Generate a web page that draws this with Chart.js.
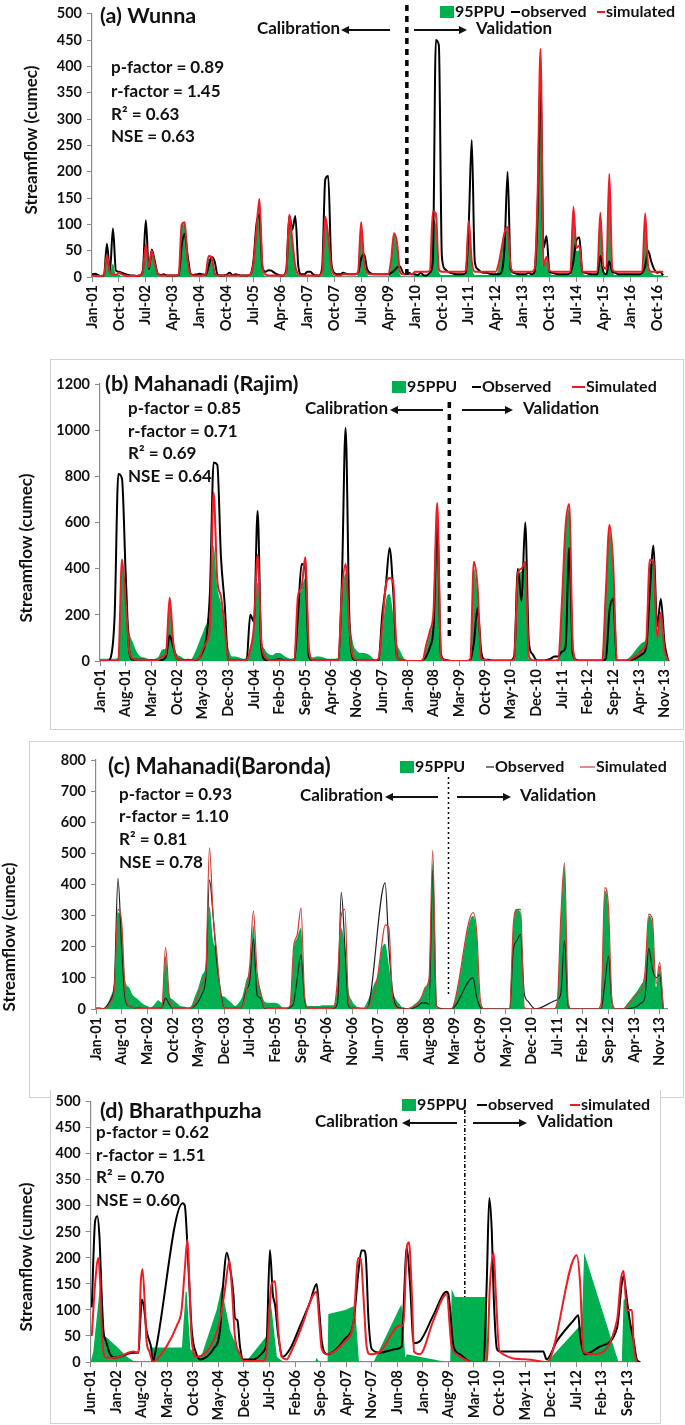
<!DOCTYPE html>
<html>
<head>
<meta charset="utf-8">
<script src="https://cdn.jsdelivr.net/npm/chart.js@4.4.1/dist/chart.umd.min.js"></script>
<style>
  html, body { margin: 0; padding: 0; background: #fff; }
  #page { position: relative; width: 685px; height: 1425px; overflow: hidden; }
  .box { position: absolute; border: 1.5px solid #d2d2d2; box-sizing: border-box; background: #fff; }
  .panel { position: absolute; left: 0; width: 685px; }
  canvas { display: block; }
</style>
</head>
<body>
<div id="page">
  <div class="box" style="left:50px;top:359px;width:634px;height:371px"></div>
  <div class="box" style="left:29px;top:741px;width:655px;height:357px"></div>
  <div class="box" style="left:50px;top:1090px;width:611px;height:334px;border-top:none"></div>
  <div class="panel" style="top:0px;height:335px"><canvas id="chart-a" width="685" height="335"></canvas></div>
  <div class="panel" style="top:345px;height:383px"><canvas id="chart-b" width="685" height="383"></canvas></div>
  <div class="panel" style="top:745px;height:345px"><canvas id="chart-c" width="685" height="345"></canvas></div>
  <div class="panel" style="top:1088px;height:337px"><canvas id="chart-d" width="685" height="337"></canvas></div>
</div>
<script>
// (a) Wunna - monthly, Jan-01 .. Dec-16
const aTicks = ["Jan-01","Oct-01","Jul-02","Apr-03","Jan-04","Oct-04","Jul-05","Apr-06","Jan-07","Oct-07","Jul-08",
  "Apr-09","Jan-10","Oct-10","Jul-11","Apr-12","Jan-13","Oct-13","Jul-14","Apr-15","Jan-16","Oct-16"];
const aObserved = [
  5, 6, 4, 2, 3, 63, 10, 92, 12, 10, 8, 6,
  4, 3, 3, 2, 3, 12, 108, 15, 52, 30, 6, 4,
  5, 3, 3, 3, 3, 4, 60, 82, 40, 6, 4, 5,
  6, 5, 4, 20, 38, 30, 4, 3, 3, 4, 8, 4,
  5, 4, 3, 3, 3, 5, 30, 100, 118, 18, 10, 13,
  12, 8, 5, 3, 3, 15, 117, 90, 116, 20, 5, 5,
  10, 10, 5, 3, 3, 20, 185, 192, 30, 8, 5, 5,
  8, 6, 5, 5, 5, 8, 35, 43, 15, 8, 5, 5,
  5, 5, 5, 5, 8, 12, 18, 20, 8, 5, 8, 5,
  5, 4, 8, 3, 3, 8, 30, 450, 440, 40, 15, 10,
  8, 6, 5, 5, 5, 8, 100, 260, 30, 15, 10, 8,
  8, 6, 5, 5, 5, 10, 60, 200, 15, 8, 6, 5,
  5, 5, 8, 5, 10, 120, 370, 55, 78, 10, 8, 6,
  5, 5, 5, 5, 8, 30, 70, 75, 10, 8, 6, 5,
  5, 5, 40, 10, 5, 30, 10, 8, 5, 5, 5, 5,
  5, 5, 5, 5, 8, 20, 50, 30, 15, 8, 10, 3
];
const aSimulated = [
  3, 2, 2, 2, 3, 42, 8, 5, 4, 8, 5, 3,
  2, 2, 2, 2, 3, 10, 62, 18, 50, 25, 5, 3,
  3, 3, 3, 3, 3, 5, 100, 104, 30, 5, 3, 3,
  3, 3, 5, 40, 38, 8, 3, 3, 3, 3, 3, 3,
  3, 3, 3, 3, 3, 5, 25, 90, 148, 20, 5, 3,
  3, 3, 3, 3, 3, 10, 118, 70, 20, 5, 3, 3,
  3, 3, 3, 3, 3, 10, 115, 78, 20, 5, 3, 3,
  5, 5, 5, 5, 5, 10, 104, 30, 8, 5, 5, 5,
  5, 5, 5, 5, 30, 83, 65, 10, 5, 5, 5, 5,
  10, 10, 10, 10, 10, 12, 125, 120, 15, 10, 10, 10,
  10, 10, 10, 10, 10, 12, 107, 30, 10, 10, 10, 10,
  10, 10, 10, 10, 25, 55, 85, 95, 20, 10, 10, 10,
  10, 10, 10, 10, 15, 150, 433, 20, 38, 12, 10, 10,
  10, 10, 10, 10, 10, 133, 55, 60, 10, 10, 10, 10,
  10, 10, 122, 20, 15, 196, 15, 10, 10, 10, 10, 10,
  10, 10, 10, 10, 10, 121, 20, 10, 10, 10, 10, 10
];
const aPPU = [
  0, 0, 0, 0, 0, 38, 10, 25, 5, 5, 0, 0,
  0, 0, 0, 0, 0, 8, 55, 15, 45, 20, 3, 0,
  0, 0, 0, 0, 0, 3, 100, 100, 30, 3, 0, 0,
  0, 0, 2, 35, 35, 10, 0, 0, 0, 0, 0, 0,
  0, 0, 0, 0, 0, 3, 20, 85, 140, 15, 2, 0,
  0, 0, 0, 0, 0, 5, 110, 75, 15, 3, 0, 0,
  0, 0, 0, 0, 0, 5, 110, 75, 15, 2, 0, 0,
  0, 0, 0, 0, 0, 5, 105, 25, 5, 0, 0, 0,
  0, 0, 0, 0, 25, 80, 60, 5, 0, 0, 0, 0,
  4, 4, 4, 4, 4, 5, 110, 100, 10, 4, 4, 4,
  4, 4, 4, 4, 4, 5, 100, 25, 4, 4, 4, 4,
  4, 4, 4, 4, 20, 50, 80, 90, 10, 4, 4, 4,
  4, 4, 4, 4, 8, 140, 300, 20, 30, 8, 4, 4,
  4, 4, 4, 4, 4, 125, 50, 50, 8, 4, 4, 4,
  4, 4, 115, 10, 5, 185, 10, 4, 4, 4, 4, 4,
  4, 4, 4, 4, 4, 115, 15, 8, 4, 4, 4, 4
];
const aSplit = 105.3;
const aStats = ["p-factor = 0.89", "r-factor = 1.45", "R\u00b2 = 0.63", "NSE = 0.63"];

// (b) Mahanadi (Rajim) - monthly, Jan-01 .. Dec-13
const bTicks = ["Jan-01","Aug-01","Mar-02","Oct-02","May-03","Dec-03","Jul-04","Feb-05","Sep-05","Apr-06","Nov-06","Jun-07",
  "Jan-08","Aug-08","Mar-09","Oct-09","May-10","Dec-10","Jul-11","Feb-12","Sep-12","Apr-13","Nov-13"];
const bObserved = [
  0, 0, 0, 20, 200, 810, 790, 380, 40, 5, 5, 5,
  5, 3, 3, 3, 3, 5, 20, 110, 60, 10, 5, 3,
  5, 3, 3, 10, 40, 100, 300, 860, 850, 450, 250, 5,
  3, 2, 2, 2, 5, 200, 170, 650, 60, 5, 3, 3,
  5, 8, 3, 2, 2, 5, 200, 420, 400, 20, 3, 2,
  2, 2, 2, 2, 3, 5, 350, 1010, 200, 10, 3, 2,
  2, 2, 2, 2, 5, 200, 330, 490, 300, 20, 5, 3,
  0, 0, 0, 0, 3, 20, 60, 150, 600, 30, 5, 2,
  0, 0, 0, 0, 0, 5, 80, 230, 40, 5, 5, 2,
  2, 2, 2, 2, 2, 20, 400, 260, 600, 80, 30, 5,
  2, 2, 5, 10, 20, 20, 40, 60, 490, 30, 5, 2,
  2, 2, 2, 2, 2, 2, 10, 220, 270, 5, 2, 2,
  2, 5, 10, 20, 30, 60, 300, 500, 150, 270, 80, 0
];
const bSimulated = [
  0, 0, 0, 0, 0, 5, 440, 260, 40, 10, 5, 5,
  5, 3, 3, 3, 5, 20, 30, 275, 80, 10, 5, 3,
  3, 3, 5, 10, 50, 80, 150, 730, 350, 280, 150, 5,
  3, 3, 3, 3, 5, 50, 150, 460, 90, 20, 5, 3,
  3, 3, 3, 3, 3, 5, 280, 320, 450, 50, 5, 3,
  3, 3, 3, 3, 3, 5, 300, 420, 150, 20, 5, 3,
  3, 3, 3, 3, 10, 150, 330, 360, 340, 20, 5, 3,
  0, 0, 0, 0, 3, 70, 130, 220, 685, 20, 3, 2,
  0, 0, 0, 0, 0, 0, 430, 320, 10, 5, 2, 0,
  0, 0, 0, 0, 0, 10, 380, 400, 430, 20, 3, 2,
  2, 2, 2, 2, 2, 5, 250, 580, 680, 60, 2, 2,
  2, 2, 2, 2, 2, 2, 300, 590, 420, 5, 2, 2,
  2, 10, 20, 30, 50, 80, 440, 430, 100, 210, 50, 0
];
const bPPU = [
  10, 10, 10, 10, 10, 15, 400, 300, 130, 80, 40, 20,
  15, 10, 5, 10, 20, 50, 55, 265, 80, 30, 20, 10,
  5, 10, 40, 80, 120, 160, 200, 500, 320, 250, 150, 60,
  20, 20, 15, 10, 15, 60, 150, 340, 100, 50, 30, 25,
  35, 35, 25, 15, 10, 15, 250, 310, 360, 40, 15, 20,
  20, 15, 10, 10, 10, 15, 280, 380, 200, 80, 45, 35,
  35, 30, 20, 5, 5, 120, 260, 290, 200, 80, 40, 10,
  0, 0, 0, 0, 3, 60, 120, 200, 650, 20, 0, 0,
  0, 0, 0, 0, 0, 0, 400, 280, 10, 0, 0, 0,
  0, 0, 0, 0, 0, 10, 350, 390, 420, 10, 0, 0,
  0, 0, 0, 0, 0, 5, 230, 560, 660, 40, 0, 0,
  0, 0, 0, 0, 0, 0, 280, 570, 400, 5, 0, 0,
  10, 25, 45, 65, 80, 100, 420, 420, 100, 200, 40, 0
];
const bSplit = 95.3;
const bStats = ["p-factor = 0.85", "r-factor = 0.71", "R\u00b2 = 0.69", "NSE = 0.64"];

// (c) Mahanadi (Baronda) - monthly, Jan-01 .. Dec-13, null = missing month
const cTicks = bTicks;
const cObserved = [
  2, 2, 0, 10, 30, 80, 420, 200, 30, 10, 5, 3,
  3, 2, 2, 2, 2, 2, 5, 35, 15, 3, 2, 2,
  2, 2, 3, 10, 25, 50, 100, 415, 300, 150, 60, 3,
  2, 2, 2, 2, 10, 60, 90, 225, 45, 35, 3, 2,
  2, 2, 2, 2, 2, 5, 20, 100, 175, 30, 2, 2,
  2, 2, 2, 2, 2, 3, 20, 375, 200, 10, 3, 2,
  2, 2, 0, null, null, null, null, 405, 200, 60, 10, 3,
  3, 0, 0, 5, 10, 20, 20, 15, 445, 10, 2, 0,
  0, 0, null, null, null, null, null, 100, 40, 5, 0, 0,
  0, 0, 0, 0, 0, 0, 190, 220, 240, 50, 25, 10,
  0, null, null, null, null, 25, 30, 50, 220, 10, 0, 0,
  0, 0, 0, 0, 0, 0, 0, 80, 170, 20, 0, 0,
  0, 0, 2, 5, 10, 20, 40, 195, 130, 100, 110, 0
];
const cSimulated = [
  2, 2, 0, 5, 20, 60, 320, 280, 50, 10, 5, 3,
  2, 2, 2, 2, 2, 2, 5, 198, 40, 3, 2, 2,
  2, 2, 3, 20, 50, 80, 120, 518, 300, 180, 50, 3,
  2, 2, 2, 2, 10, 50, 140, 315, 120, 50, 5, 2,
  2, 2, 2, 2, 2, 10, 200, 240, 325, 40, 2, 2,
  2, 2, 2, 2, 2, 5, 100, 300, 320, 20, 3, 2,
  2, 2, 0, 20, 50, 110, 200, 270, 260, 40, 5, 0,
  0, 0, 5, 10, 20, 40, 70, 100, 510, 10, 0, 0,
  0, 0, null, null, null, null, null, 310, 250, 30, 0, 0,
  0, 0, 0, 0, 0, 0, 270, 320, 320, 5, 0, 0,
  0, 0, 0, 0, 0, 0, 20, 300, 470, 20, 0, 0,
  0, 0, 0, 0, 0, 0, 20, 390, 330, 20, 0, 0,
  0, 10, 20, 35, 50, 60, 120, 305, 290, 80, 150, 0
];
const cPPU = [
  5, 5, 3, 15, 40, 90, 310, 280, 90, 70, 45, 35,
  25, 15, 10, 5, 15, 28, 20, 170, 50, 30, 20, 10,
  8, 5, 10, 40, 70, 110, 140, 330, 220, 180, 50, 40,
  30, 20, 10, 20, 40, 90, 130, 270, 110, 60, 25, 20,
  20, 20, 15, 5, 5, 10, 190, 230, 260, 30, 10, 10,
  10, 10, 12, 12, 12, 12, 80, 260, 200, 60, 25, 10,
  5, 3, 20, 50, 80, 110, 190, 210, 140, 60, 30, 15,
  0, 0, 5, 15, 25, 40, 70, 100, 470, 5, 0, 0,
  0, 0, null, null, null, null, null, 300, 240, 20, 0, 0,
  0, 0, 0, 0, 0, 0, 260, 320, 310, 0, 0, 0,
  0, 0, 0, 0, 0, 0, 20, 290, 460, 10, 0, 0,
  0, 0, 0, 0, 0, 0, 10, 380, 320, 10, 0, 0,
  0, 15, 30, 45, 60, 80, 110, 300, 280, 70, 140, 0
];
const cSplit = 96.3;
const cStats = ["p-factor = 0.93", "r-factor = 1.10", "R\u00b2 = 0.81", "NSE = 0.78"];

// (d) Bharathpuzha - [months since Jun-01, value]; the record has gaps
const dTicks = ["Jun-01","Jan-02","Aug-02","Mar-03","Oct-03","May-04","Dec-04","Jul-05","Feb-06","Sep-06","Apr-07",
  "Nov-07","Jun-08","Jan-09","Aug-09","Mar-10","Oct-10","May-11","Dec-11","Jul-12","Feb-13","Sep-13"];
const dObserved = [[0.3,105],[1.2,270],[1.8,280],[2.4,240],[3.0,130],[3.5,60],[4.2,40],[5.3,15],[6.7,8],[9.9,15],[11.7,18],
  [13.1,18],[13.6,80],[14.0,120],[14.6,105],[15.3,60],[16.1,40],[16.5,30],[17.0,0],[17.6,15],[25.2,305],[25.8,300],
  [26.3,250],[27.0,150],[27.7,60],[29.0,15],[30.0,5],[31.8,10],[33.6,25],[35.4,60],[36.3,150],[37.3,210],[38.2,180],
  [39.1,130],[39.5,85],[40.2,80],[40.9,30],[41.8,5],[44.6,5],[47.3,20],[48.2,40],[49.1,215],[49.9,130],[50.5,110],
  [51.4,50],[52.6,10],[54.6,25],[57.4,70],[60.1,115],[61.9,150],[62.6,100],[63.3,40],[64.7,15],[66.5,20],[69.7,45],
  [72.0,76],[73.3,170],[74.2,214],[74.9,214],[75.4,200],[76.1,83],[77.0,25],[79.3,18],[83.8,25],[85.2,30],[85.7,100],
  [86.6,220],[87.5,150],[88.5,36],[90.2,40],[93.9,90],[97.5,135],[98.0,130],[99.4,30],[101.1,15],[104.4,0],[107.6,0],
  [108.5,150],[109.2,315],[109.9,250],[110.4,130],[111.3,25],[112.2,20],[124.0,20],[124.9,5],[127.7,40],[132.3,80],
  [133.6,90],[134.1,50],[135.4,15],[139.6,30],[144.2,65],[145.5,150],[146.0,165],[146.9,120],[147.8,75],[148.8,40],
  [149.6,5],[150.5,0]];
const dSimulated = [[0.3,50],[1.2,150],[2.1,200],[2.6,150],[3.0,70],[3.5,20],[4.4,8],[6.7,8],[11.7,20],[13.1,18],[13.7,150],
  [14.2,178],[14.9,100],[15.3,40],[16.1,20],[17.0,0],[18.1,5],[20.8,30],[23.6,70],[24.9,100],[25.8,180],[26.5,235],
  [27.0,160],[27.7,40],[29.0,10],[33.6,40],[35.4,80],[36.8,140],[38.0,195],[38.7,140],[39.5,50],[40.9,15],[41.8,2],
  [47.3,2],[48.2,20],[49.6,150],[50.5,155],[51.4,60],[52.3,10],[53.7,5],[54.6,15],[57.4,60],[61.9,135],[62.6,80],
  [63.3,25],[64.7,15],[69.7,40],[72.0,76],[73.3,200],[74.0,200],[74.7,130],[75.6,30],[76.5,15],[79.3,20],[84.7,70],
  [85.7,70],[86.6,220],[87.2,230],[88.0,130],[88.6,20],[90.2,15],[93.9,80],[97.5,130],[98.9,30],[100.3,15],[104.9,0],
  [108.5,0],[109.4,150],[110.4,210],[111.0,130],[112.0,20],[119.5,5],[125.0,0],[133.2,205],[134.1,150],[135.0,20],
  [137.8,15],[144.2,80],[145.3,160],[146.0,175],[146.9,100],[147.6,100],[148.3,100],[148.8,30],[149.6,0]];
const dPPU = [[0,0],[0.7,20],[2.6,150],[3.0,140],[3.5,60],[3.9,50],[7.1,30],[9.9,10],[11.7,2],[13.5,0],[16.5,0],[16.7,28],
  [25.0,28],[26.0,135],[26.3,135],[27.3,25],[29.5,10],[30.5,15],[34.5,100],[35.9,145],[36.2,130],[38.2,60],[41.8,0],
  [42.5,0],[48.2,50],[49.1,120],[49.6,100],[51.0,10],[52.8,0],[61.5,0],[61.9,8],[62.6,0],[64.9,0],[65.1,92],[69.7,100],
  [72.4,108],[72.9,60],[73.5,0],[77.5,0],[84.7,105],[85.2,110],[86.2,8],[86.6,15],[97.5,0],[98.5,0],[98.9,140],
  [99.8,125],[108.5,125],[108.6,0],[125.0,0],[134.1,70],[134.5,60],[135.2,210],[144.6,0],[145.5,0],[146.0,120],
  [146.5,120],[149.0,30],[150.0,0]];
const dSplit = 102.5;
const dStats = ["p-factor = 0.62", "r-factor = 1.51", "R\u00b2 = 0.70", "NSE = 0.60"];

const GREEN = "#00b050";
const AXIS = "#8a8a8a";
const FONT = "Lato, 'Open Sans', sans-serif";

const monthly = (vals) => vals.map((v, i) => ({ x: i, y: v }));
const pairs = (list) => list.map(([x, y]) => ({ x, y }));

function arrow(ctx, x1, x2, y) {
  const dir = x2 > x1 ? 1 : -1;
  ctx.beginPath();
  ctx.moveTo(x1, y);
  ctx.lineTo(x2 - dir * 6, y);
  ctx.stroke();
  ctx.beginPath();
  ctx.moveTo(x2, y);
  ctx.lineTo(x2 - dir * 8, y - 4);
  ctx.lineTo(x2 - dir * 8, y + 4);
  ctx.closePath();
  ctx.fill();
}

// texts, arrows, split line and legend drawn on top of each panel
function overlay(p) {
  return {
    id: "overlay-" + p.canvas,
    afterDraw(chart) {
      const ctx = chart.ctx;
      const oy = p.top;
      ctx.save();
      ctx.fillStyle = "#111";
      ctx.strokeStyle = "#111";
      ctx.textBaseline = "middle";

      ctx.font = `bold ${p.title.size}px ${FONT}`;
      ctx.fillText(p.title.text, p.title.x, p.title.y - oy);

      ctx.font = `bold ${p.stats.size}px ${FONT}`;
      p.stats.lines.forEach((t, i) => ctx.fillText(t, p.stats.x, p.stats.y[i] - oy));

      const ph = p.phase;
      ctx.font = `bold ${ph.size}px ${FONT}`;
      ctx.textAlign = "right";
      ctx.fillText("Calibration", ph.calEnd, ph.y - oy);
      ctx.textAlign = "left";
      ctx.fillText("Validation", ph.valStart, ph.y - oy);
      ctx.lineWidth = 2;
      arrow(ctx, ph.leftArrow[0], ph.leftArrow[1], ph.y - oy + 1);
      arrow(ctx, ph.rightArrow[0], ph.rightArrow[1], ph.y - oy + 1);

      const sx = chart.scales.x.getPixelForValue(p.split);
      ctx.setLineDash(ph.dash);
      ctx.lineWidth = ph.dashWidth;
      ctx.strokeStyle = "#000";
      ctx.beginPath();
      ctx.moveTo(sx, ph.splitY[0] - oy);
      ctx.lineTo(sx, ph.splitY[1] - oy);
      ctx.stroke();
      ctx.setLineDash([]);

      const lg = p.legend;
      const ly = lg.y - oy;
      ctx.font = `bold ${lg.size}px ${FONT}`;
      ctx.fillStyle = GREEN;
      ctx.fillRect(lg.rect, ly - 6, 14, 12);
      ctx.fillStyle = "#111";
      ctx.fillText(lg.names[0], lg.rect + 15, ly);
      ctx.lineWidth = p.lineWidth;
      ctx.strokeStyle = p.obsColor;
      ctx.beginPath(); ctx.moveTo(lg.obsLine[0], ly); ctx.lineTo(lg.obsLine[1], ly); ctx.stroke();
      ctx.fillText(lg.names[1], lg.obsLine[1] + 1, ly);
      ctx.strokeStyle = p.simColor;
      ctx.beginPath(); ctx.moveTo(lg.simLine[0], ly); ctx.lineTo(lg.simLine[1], ly); ctx.stroke();
      ctx.fillText(lg.names[2], lg.simLine[1] + 1, ly);

      ctx.translate(p.yTitle.x, p.yTitle.y - oy);
      ctx.rotate(-Math.PI / 2);
      ctx.textAlign = "center";
      ctx.font = `bold ${p.yTitle.size}px ${FONT}`;
      ctx.fillText("Streamflow (cumec)", 0, 0);
      ctx.restore();
    }
  };
}

function buildChart(p) {
  const tickFont = { family: FONT, size: 14.5, weight: "bold" };
  return new Chart(document.getElementById(p.canvas), {
    type: "line",
    data: {
      datasets: [
        { label: "simulated", data: p.sim, borderColor: p.simColor, borderWidth: p.lineWidth, order: 1, spanGaps: true },
        { label: "observed", data: p.obs, borderColor: p.obsColor, borderWidth: p.lineWidth, order: 2, spanGaps: true },
        { label: "95PPU", data: p.ppu, borderWidth: 0, backgroundColor: GREEN, fill: "origin", order: 3, spanGaps: true,
          cubicInterpolationMode: p.ppuCurve ? "monotone" : "default", tension: 0 }
      ]
    },
    options: {
      responsive: false,
      animation: false,
      devicePixelRatio: 1,
      layout: { padding: { top: p.area.top - p.top, right: 685 - p.area.right, left: 0, bottom: 0 } },
      elements: { point: { radius: 0 }, line: { cubicInterpolationMode: "monotone" } },
      plugins: { legend: { display: false }, tooltip: { enabled: false } },
      scales: {
        x: {
          type: "linear", min: 0, max: p.xMax,
          afterFit: (s) => { s.height = p.h - (p.area.bottom - p.top); },
          afterBuildTicks: (s) => { s.ticks = p.tickLabels.map((_, i) => ({ value: i * p.tickStep })); },
          ticks: { callback: (v, i) => p.tickLabels[i], autoSkip: false, minRotation: 90, maxRotation: 90,
                   font: tickFont, color: "#111", padding: 3 },
          grid: { drawOnChartArea: false, tickLength: 5, color: AXIS },
          border: { color: AXIS, width: 1.2 }
        },
        y: {
          min: 0, max: p.yMax,
          afterFit: (s) => { s.width = p.area.left; },
          ticks: { stepSize: p.yStep, font: tickFont, color: "#111", padding: 5, callback: (v) => String(v) },
          grid: { drawOnChartArea: false, tickLength: 5, color: AXIS },
          border: { color: AXIS, width: 1.2 }
        }
      }
    },
    plugins: [overlay(p)]
  });
}

const legendLower = ["95PPU", "observed", "simulated"];
const legendUpper = ["95PPU", "Observed", "Simulated"];

buildChart({
  canvas: "chart-a", top: 0, h: 335,
  area: { left: 92, top: 7, right: 667.6, bottom: 277 },
  xMax: 192.5, yMax: 500, yStep: 50, tickStep: 9, tickLabels: aTicks, split: aSplit,
  obs: monthly(aObserved), sim: monthly(aSimulated), ppu: monthly(aPPU), ppuCurve: true,
  lineWidth: 2, obsColor: "#000", simColor: "#ee1c25",
  title: { text: "(a) Wunna", x: 100, y: 16, size: 21.5 },
  stats: { lines: aStats, x: 111, y: [68, 92, 115, 137], size: 17 },
  phase: { y: 29, size: 17, calEnd: 340, leftArrow: [390, 341], rightArrow: [414, 467], valStart: 476,
           splitY: [5, 277], dash: [6, 5], dashWidth: 3.5 },
  legend: { y: 12, size: 16, rect: 440, obsLine: [511, 520], simLine: [597, 605], names: legendLower },
  yTitle: { x: 32, y: 140, size: 17 }
});

buildChart({
  canvas: "chart-b", top: 345, h: 383,
  area: { left: 100, top: 384, right: 674, bottom: 661 },
  xMax: 155.5, yMax: 1200, yStep: 200, tickStep: 7, tickLabels: bTicks, split: bSplit,
  obs: monthly(bObserved), sim: monthly(bSimulated), ppu: monthly(bPPU), ppuCurve: true,
  lineWidth: 2, obsColor: "#000", simColor: "#ee1c25",
  title: { text: "(b) Mahanadi (Rajim)", x: 105, y: 384, size: 21.5 },
  stats: { lines: bStats, x: 128, y: [409, 432, 454, 477], size: 17 },
  phase: { y: 409, size: 17, calEnd: 388, leftArrow: [443, 390], rightArrow: [462, 513], valStart: 523,
           splitY: [402, 642], dash: [6, 6], dashWidth: 3.5 },
  legend: { y: 387, size: 16, rect: 392, obsLine: [472, 481], simLine: [572, 585], names: legendUpper },
  yTitle: { x: 27, y: 548, size: 17 }
});

buildChart({
  canvas: "chart-c", top: 745, h: 345,
  area: { left: 96, top: 760, right: 667, bottom: 1009 },
  xMax: 156, yMax: 800, yStep: 100, tickStep: 7, tickLabels: cTicks, split: cSplit,
  obs: monthly(cObserved), sim: monthly(cSimulated), ppu: monthly(cPPU), ppuCurve: true,
  lineWidth: 1.2, obsColor: "#222", simColor: "#d23b32",
  title: { text: "(c) Mahanadi(Baronda)", x: 108, y: 767, size: 22.5 },
  stats: { lines: cStats, x: 119, y: [795, 817, 840, 863], size: 17 },
  phase: { y: 796, size: 17, calEnd: 383, leftArrow: [438, 385], rightArrow: [457, 511], valStart: 520,
           splitY: [777, 997], dash: [2, 3], dashWidth: 1.5 },
  legend: { y: 767, size: 16, rect: 400, obsLine: [486, 494], simLine: [580, 595], names: legendUpper },
  yTitle: { x: 10, y: 937, size: 17 }
});

buildChart({
  canvas: "chart-d", top: 1088, h: 337,
  area: { left: 90.7, top: 1096, right: 640, bottom: 1362 },
  xMax: 150.5, yMax: 500, yStep: 50, tickStep: 7, tickLabels: dTicks, split: dSplit,
  obs: pairs(dObserved), sim: pairs(dSimulated), ppu: pairs(dPPU), ppuCurve: false,
  lineWidth: 2, obsColor: "#000", simColor: "#ee1c25",
  title: { text: "(d) Bharathpuzha", x: 100, y: 1111, size: 21.5 },
  stats: { lines: dStats, x: 96, y: [1133, 1156, 1178, 1201], size: 17 },
  phase: { y: 1122, size: 17, calEnd: 398, leftArrow: [457, 402], rightArrow: [473, 527], valStart: 537,
           splitY: [1110, 1298], dash: [4, 2, 1, 2], dashWidth: 1.5 },
  legend: { y: 1105, size: 16, rect: 402, obsLine: [477, 487], simLine: [570, 580], names: legendLower },
  yTitle: { x: 27, y: 1257, size: 17 }
});
</script>
</body>
</html>
